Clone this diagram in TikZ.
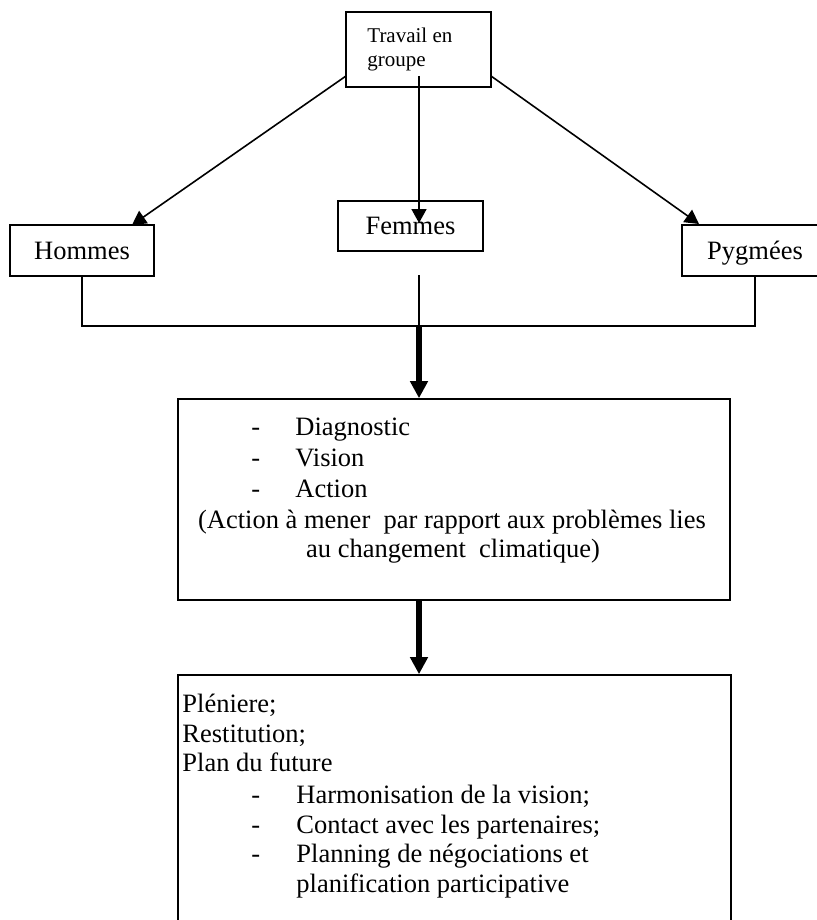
\documentclass[tikz,border=0pt]{standalone}
\usepackage{fontspec}
\setmainfont{Liberation Serif}
\usetikzlibrary{arrows.meta,calc}
\newcommand{\mainsize}{\fontsize{13.25pt}{15pt}\selectfont}
\newcommand{\smallsize}{\fontsize{10.5pt}{12pt}\selectfont}
\begin{document}
\begin{tikzpicture}[x=0.5pt,y=-0.5pt,
  box/.style={draw, line width=0.8pt, inner sep=0pt},
  thinline/.style={line width=0.8pt},
  arr/.style={thinline, -{Triangle[length=7pt,width=7.5pt]}},
  bigarr/.style={line width=2.75pt, -{Triangle[length=8.5pt,width=8.5pt]}},
  txt/.style={inner sep=0pt, anchor=base west, font=\mainsize},
  ctxt/.style={inner sep=0pt, anchor=base, font=\mainsize},
  label box/.style={box, font=\mainsize, text depth=0pt, minimum height=25.5pt}]
\useasboundingbox (0,0) rectangle (817,920);
\clip (0,0) rectangle (817,920);

% top box
\node[box, minimum width=72.5pt, minimum height=37.5pt] (top) at (418.5,49.5) {};
\node[inner sep=0pt, anchor=base west, font=\smallsize] (t1) at (367,43) {Travail en};
\node[inner sep=0pt, anchor=base west, font=\smallsize] (t2) at (367,67) {groupe};

% three group boxes
\node[label box, minimum width=72pt] (hom) at (82,250.5) {Hommes};
\node[label box, minimum width=72.5pt, minimum height=25pt] (fem) at (410.5,226) {Femmes};
\node[label box, minimum width=73pt] (pyg) at (755,250.5) {Pygm\'ees};

% arrows from top box
\coordinate (ta) at (346,76);
\coordinate (tb) at (491,76);
\coordinate (tc) at (419,76);
\coordinate (htip) at (132,225);
\coordinate (ptip) at (699,224);
\coordinate (ftip) at (419,223);
\draw[arr] (ta) -- (htip);
\draw[arr] (tb) -- (ptip);
\draw[arr] (tc) -- (ftip);

% junction
\coordinate (j) at (419,326);
\coordinate (fs) at (419,275);
\draw[thinline] (hom.south) -- (hom.south |- j) -- (pyg.south |- j) -- (pyg.south);
\draw[thinline] (fs) -- (j);

% middle box
\node[box, minimum width=276pt, minimum height=100.5pt] (mid) at (454,499.5) {};
\draw[bigarr] (j) -- (mid.north -| j);

\node[txt] (d1) at (251,435) {-};
\node[txt] (m1) at (295,435) {Diagnostic};
\node[txt] (d2) at (251,466) {-};
\node[txt] (m2) at (295,466) {Vision};
\node[txt] (d3) at (251,497) {-};
\node[txt] (m3) at (295,497) {Action};
\node[ctxt] (m4) at (452,528) {(Action \`a mener\ \ par rapport aux probl\`emes lies};
\node[ctxt] (m5) at (453,557) {au changement\ \ climatique)};

% bottom box
\node[box, minimum width=276.5pt, minimum height=127.5pt] (bot) at (454.5,802.5) {};
\draw[bigarr] (mid.south -| j) -- (bot.north -| j);

\node[txt] (b1) at (182,712) {Pl\'eniere;};
\node[txt] (b2) at (182,742) {Restitution;};
\node[txt] (b3) at (182,771) {Plan du future};
\node[txt] (e1) at (251,803) {-};
\node[txt] (b4) at (296,803) {Harmonisation de la vision;};
\node[txt] (e2) at (251,833) {-};
\node[txt] (b5) at (296,833) {Contact avec les partenaires;};
\node[txt] (e3) at (251,862) {-};
\node[txt] (b6) at (296,862) {Planning de n\'egociations et};
\node[txt] (b7) at (296,892) {planification participative};
\end{tikzpicture}
\end{document}
